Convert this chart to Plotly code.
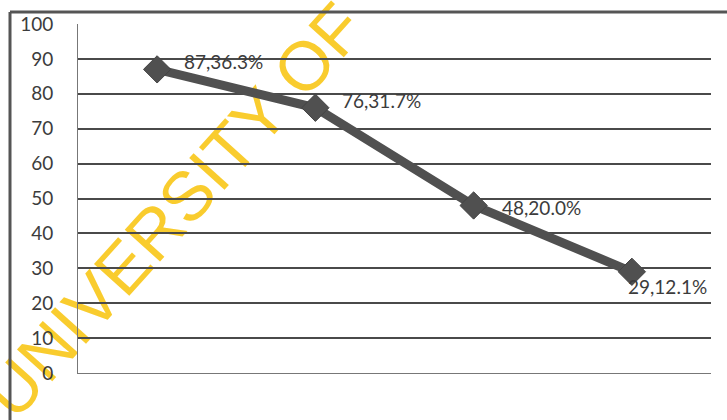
import plotly.graph_objects as go

categories = ["A", "B", "C", "D"]
counts = [87, 76, 48, 29]
percents = [36.3, 31.7, 20.0, 12.1]
y_ticks = [0, 10, 20, 30, 40, 50, 60, 70, 80, 90, 100]

# label offsets (px) relative to each point
label_dx = [25, 25, 26, -6]
label_dy = [8, 7, -2, -15]

LINE = "#505050"
TXT = "#3c3c3c"
FONT = "Lato"

W, H = 727, 420
ML, MR, MT, MB = 78, 16, 24, 47
PW, PH = W - ML - MR, H - MT - MB


def px(x):
    return (x - ML) / PW


def py(y):
    return (H - MB - y) / PH


fig = go.Figure()
fig.add_trace(go.Scatter(
    x=categories, y=counts, mode="lines+markers",
    line=dict(color=LINE, width=9),
    marker=dict(symbol="diamond", size=21, color=LINE, line=dict(color="#444", width=1)),
    hoverinfo="skip", showlegend=False,
))

annotations = []
for c, v, p, dx, dy in zip(categories, counts, percents, label_dx, label_dy):
    annotations.append(dict(
        x=c, y=v, xref="x", yref="y", text=f"{v},{p:.1f}%", showarrow=False,
        xanchor="left", yanchor="middle", xshift=dx, yshift=dy,
        font=dict(family=FONT, size=19, color=TXT),
    ))

# watermark: invisible line along the text direction, carrying the label
cx, cy = 169, 206
ux, uy = 0.669, -0.743
L = 60
shapes = [
    dict(type="line", xref="paper", yref="paper",
         x0=px(cx - ux * L), y0=py(cy - uy * L), x1=px(cx + ux * L), y1=py(cy + uy * L),
         line=dict(color="rgba(0,0,0,0)", width=0), layer="below",
         label=dict(text="UNIVERSITY OF", textposition="middle", yanchor="middle",
                    textangle=-48,
                    font=dict(family="Liberation Sans, Arial", size=69,
                              color="rgba(248,200,28,0.92)"))),
    # top border of scanned frame
    dict(type="line", xref="paper", yref="paper", x0=px(10), x1=px(W),
         y0=py(12), y1=py(12), line=dict(color="#555", width=3), layer="above"),
    # left border of scanned frame
    dict(type="line", xref="paper", yref="paper", x0=px(10), x1=px(10),
         y0=py(H), y1=py(12), line=dict(color="#555", width=3), layer="above"),
]

fig.update_layout(
    width=W, height=H,
    margin=dict(l=ML, r=MR, t=MT, b=MB),
    paper_bgcolor="white", plot_bgcolor="white",
    annotations=annotations, shapes=shapes,
    xaxis=dict(
        type="category", showticklabels=False, showgrid=False, zeroline=False,
        showline=True, linecolor="#777", linewidth=1, mirror=False,
        range=[-0.5, 3.5], fixedrange=True,
    ),
    yaxis=dict(
        range=[0, 100], tickvals=y_ticks, showgrid=True, gridcolor="#4a4a4a", gridwidth=1.5,
        zeroline=False, showline=True, linecolor="#777", linewidth=1,
        ticks="", ticklabelstandoff=20,
        tickfont=dict(family=FONT, size=19, color=TXT),
    ),
)

fig.write_html("out.html")
